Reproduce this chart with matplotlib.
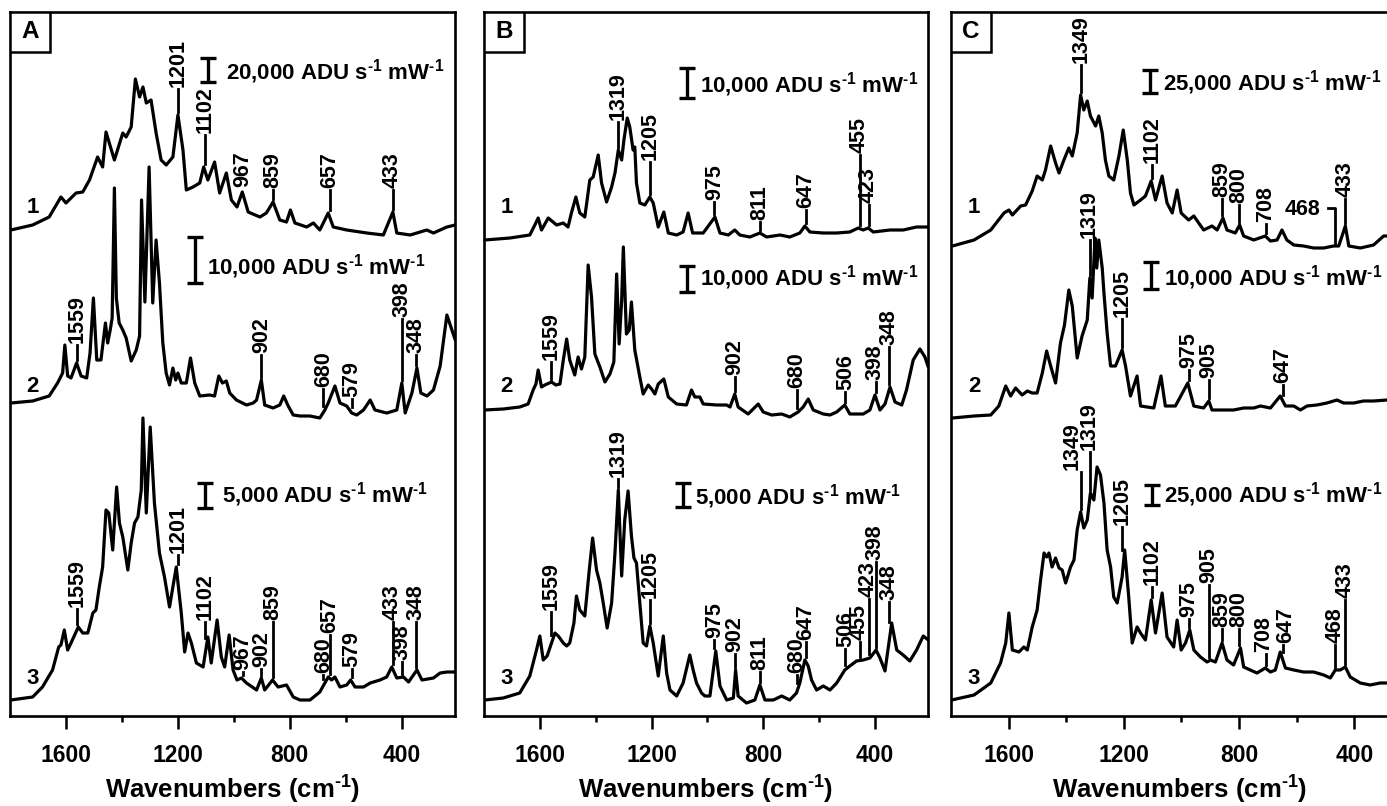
import numpy as np
import matplotlib
matplotlib.use('Agg')
import matplotlib.pyplot as plt
from matplotlib.patches import Rectangle

plt.rcParams['font.family'] = ['Liberation Sans', 'DejaVu Sans']
plt.rcParams['font.weight'] = 'bold'
plt.rcParams['mathtext.fontset'] = 'custom'
plt.rcParams['mathtext.rm'] = 'Liberation Sans:bold'
plt.rcParams['mathtext.it'] = 'Liberation Sans:bold'
plt.rcParams['mathtext.bf'] = 'Liberation Sans:bold'

# ---- spectra: (wavenumber cm-1, relative intensity) ----
a1 = [(1797,5),(1719,10),(1660,18),(1618,38),(1600,32),(1564,42),(1540,43),(1516,55),(1487,78),(1469,68),
      (1457,103),(1427,75),(1397,102),(1385,98),(1367,108),(1352,156),(1337,138),(1325,148),(1313,132),(1296,135),
      (1278,102),(1260,75),(1242,70),(1218,78),(1200,120),(1182,85),(1170,45),(1146,48),(1122,52),(1108,68),
      (1093,55),(1069,73),(1051,42),(1027,62),(1009,35),(989,28),(970,43),(949,23),(907,18),(884,22),
      (860,33),(836,15),(812,13),(798,25),(782,12),(740,8),(716,12),(693,5),(663,22),(645,8),
      (597,5),(525,2),(466,0),(432,23),(418,2),(370,0),(311,5),(287,2),(239,8),(209,10)]
a2 = [(1797,15),(1719,17),(1660,22),(1630,35),(1612,45),(1604,73),(1594,42),(1582,40),(1562,55),(1546,42),
      (1526,40),(1514,65),(1502,120),(1490,58),(1475,58),(1459,95),(1451,75),(1442,88),(1435,100),(1427,230),
      (1420,120),(1410,95),(1397,88),(1385,80),(1367,57),(1349,68),(1337,82),(1330,218),(1318,116),(1303,251),
      (1290,115),(1278,178),(1266,135),(1254,75),(1242,45),(1230,33),(1218,50),(1208,38),(1200,45),(1188,35),
      (1170,35),(1155,60),(1140,35),(1122,22),(1087,23),(1069,22),(1054,42),(1041,35),(1027,37),(1015,25),
      (991,18),(955,13),(931,15),(919,18),(902,38),(890,13),(860,10),(836,13),(822,22),(806,12),
      (788,3),(764,2),(728,2),(693,0),(675,8),(663,15),(639,32),(621,15),(597,12),(579,5),
      (561,3),(537,8),(513,18),(496,8),(454,5),(418,8),(400,35),(388,5),(364,25),(346,50),
      (332,25),(310,22),(287,28),(263,52),(239,103),(221,88),(209,78)]
a3 = [(1797,0),(1719,3),(1684,13),(1648,30),(1626,53),(1618,55),(1606,70),(1594,50),(1582,57),(1556,73),
      (1540,67),(1522,67),(1504,87),(1493,90),(1481,113),(1469,133),(1457,190),(1447,187),(1433,150),(1419,213),
      (1409,177),(1397,163),(1379,130),(1367,157),(1355,177),(1343,183),(1331,210),(1325,282),(1313,187),(1299,273),
      (1284,197),(1266,147),(1248,123),(1230,93),(1206,133),(1188,87),(1176,48),(1164,67),(1152,57),(1134,37),
      (1110,33),(1093,63),(1081,37),(1060,80),(1045,43),(1033,33),(1017,65),(1003,30),(989,20),(973,22),
      (955,17),(919,10),(902,22),(890,10),(862,20),(842,13),(812,15),(788,3),(764,0),(728,0),
      (693,8),(675,17),(663,23),(651,20),(639,23),(621,13),(597,15),(583,20),(567,13),(537,13),
      (513,17),(478,20),(454,23),(436,33),(418,22),(394,23),(376,18),(346,30),(328,20),(287,22),
      (263,27),(239,28),(209,28)]

b1 = [(1797,0),(1707,2),(1636,5),(1618,15),(1606,22),(1594,10),(1570,22),(1540,15),(1516,17),(1499,13),
      (1487,27),(1471,43),(1457,27),(1439,23),(1421,60),(1409,63),(1391,85),(1379,57),(1361,38),(1343,53),
      (1331,67),(1319,90),(1307,80),(1299,100),(1287,122),(1278,113),(1266,90),(1260,93),(1254,57),(1242,37),
      (1224,35),(1206,43),(1194,37),(1176,13),(1156,28),(1140,7),(1110,5),(1087,8),(1069,27),(1053,7),
      (1015,7),(973,23),(955,7),(925,5),(902,10),(884,5),(848,3),(812,7),(788,3),(740,5),
      (705,3),(669,7),(651,14),(633,8),(585,7),(537,7),(490,8),(460,12),(442,10),(424,12),
      (406,8),(346,10),(299,10),(251,13),(209,13)]
b2 = [(1797,7),(1731,8),(1672,10),(1642,13),(1624,27),(1614,33),(1606,47),(1594,30),(1582,32),(1574,33),
      (1558,35),(1543,32),(1528,33),(1516,57),(1504,78),(1493,57),(1475,42),(1463,60),(1451,48),(1439,60),
      (1427,152),(1415,120),(1403,63),(1385,50),(1367,35),(1349,43),(1335,55),(1325,143),(1316,73),(1307,117),
      (1301,170),(1290,83),(1280,87),(1272,115),(1260,67),(1242,40),(1230,23),(1212,32),(1200,28),(1188,23),
      (1176,33),(1156,38),(1140,20),(1110,13),(1075,12),(1057,27),(1045,20),(1027,20),(1015,13),(967,12),
      (931,12),(919,10),(902,23),(890,10),(854,3),(818,13),(800,5),(770,2),(734,3),(705,0),
      (675,5),(657,10),(639,18),(621,7),(585,3),(561,2),(537,5),(508,12),(490,3),(442,3),
      (418,7),(400,22),(382,7),(364,13),(346,30),(328,15),(304,12),(287,27),(263,57),(239,68),
      (221,60),(209,50)]
b3 = [(1797,3),(1731,5),(1672,10),(1636,27),(1612,53),(1600,67),(1588,43),(1574,47),(1546,70),(1534,67),
      (1516,60),(1504,57),(1493,60),(1478,80),(1469,107),(1457,93),(1439,87),(1423,133),(1411,165),(1397,133),
      (1385,120),(1373,100),(1359,75),(1343,100),(1331,150),(1319,213),(1307,127),(1296,183),(1284,212),(1272,167),
      (1263,145),(1254,140),(1242,100),(1230,60),(1218,57),(1206,77),(1194,60),(1176,27),(1158,67),(1146,30),
      (1134,13),(1110,7),(1087,20),(1063,48),(1051,33),(1039,20),(1021,10),(1009,7),(991,7),(970,52),
      (955,17),(931,3),(907,5),(899,33),(890,7),(860,0),(830,3),(812,18),(794,3),(764,3),
      (734,7),(705,3),(681,10),(669,20),(651,43),(639,37),(627,23),(609,13),(585,17),(561,13),
      (537,20),(508,33),(490,37),(466,42),(442,43),(418,45),(396,53),(382,45),(364,32),(340,80),
      (322,53),(299,48),(275,42),(251,53),(227,67),(209,63)]

c1 = [(1795,2),(1720,8),(1662,18),(1616,35),(1599,38),(1587,33),(1558,42),(1541,43),(1518,57),(1501,72),
      (1483,68),(1472,78),(1454,102),(1437,85),(1425,75),(1408,88),(1391,100),(1379,92),(1362,115),(1350,153),
      (1339,138),(1327,147),(1316,132),(1298,122),(1287,132),(1275,115),(1264,88),(1252,72),(1235,68),(1217,92),
      (1202,118),(1188,88),(1177,55),(1165,43),(1142,48),(1125,52),(1105,67),(1090,48),(1067,72),(1050,45),
      (1032,35),(1015,58),(1001,35),(975,28),(957,32),(940,25),(923,18),(894,22),(876,18),(856,30),
      (842,18),(813,15),(798,23),(784,12),(749,8),(709,12),(691,7),(668,8),(651,18),(634,8),
      (610,3),(576,2),(541,0),(506,0),(472,2),(454,2),(431,22),(419,2),(379,0),(333,3),
      (298,12),(286,12)]
c2 = [(1795,0),(1720,2),(1662,3),(1634,12),(1610,32),(1593,22),(1576,30),(1553,23),(1535,27),(1518,25),
      (1501,25),(1483,45),(1468,67),(1454,52),(1437,35),(1420,75),(1406,93),(1391,128),(1379,112),(1362,60),
      (1345,82),(1327,98),(1318,140),(1310,120),(1300,180),(1294,150),(1287,178),(1275,150),(1269,125),(1258,85),
      (1246,52),(1229,52),(1206,68),(1194,52),(1177,22),(1154,42),(1142,12),(1096,10),(1071,42),(1056,12),
      (1021,12),(978,35),(957,12),(923,10),(905,17),(894,8),(853,8),(819,8),(784,10),(749,10),
      (726,12),(691,10),(657,22),(639,12),(610,12),(587,8),(564,12),(530,13),(495,15),(460,18),
      (437,15),(402,15),(368,17),(333,17),(286,18)]
c3 = [(1798,0),(1720,5),(1662,17),(1628,37),(1610,57),(1599,87),(1587,50),(1564,48),(1547,53),(1535,50),
      (1518,73),(1501,90),(1489,120),(1477,147),(1468,143),(1460,147),(1449,133),(1437,142),(1425,132),(1414,130),
      (1402,117),(1385,133),(1373,140),(1362,170),(1350,188),(1339,172),(1327,180),(1316,207),(1304,200),(1293,233),
      (1281,225),(1269,197),(1258,150),(1246,133),(1235,103),(1223,97),(1206,123),(1197,150),(1183,103),(1171,57),
      (1154,73),(1142,67),(1125,60),(1105,100),(1090,67),(1067,107),(1050,63),(1027,53),(1015,80),(1001,50),
      (986,57),(971,70),(957,50),(934,43),(911,38),(899,40),(882,38),(859,57),(842,40),(819,35),
      (795,52),(784,33),(761,30),(738,27),(720,30),(709,32),(691,28),(674,30),(657,48),(639,32),
      (610,30),(576,28),(541,28),(506,25),(483,22),(466,30),(449,30),(431,33),(414,23),(379,17),
      (345,15),(310,17),(286,17)]

# assigned bands per trace
a1_peaks = [1201, 1102, 967, 859, 657, 433]
a2_peaks = [1559, 902, 680, 579, 398, 348]
a3_peaks = [1559, 1201, 1102, 967, 902, 859, 680, 657, 579, 433, 398, 348]
b1_peaks = [1319, 1205, 975, 811, 647, 455, 423]
b2_peaks = [1559, 902, 680, 506, 398, 348]
b3_peaks = [1319, 1559, 1205, 975, 902, 811, 680, 647, 506, 455, 423, 398, 348]
c1_peaks = [1349, 1102, 859, 800, 708, 433]
c2_peaks = [1319, 1205, 975, 905, 647]
c3_peaks = [1349, 1319, 1205, 1102, 975, 905, 859, 800, 708, 647, 468, 433]

# scale bars (ADU s-1 mW-1) and their length in plot units
a_scale = ['20,000', '10,000', '5,000']
b_scale = ['10,000', '10,000', '5,000']
c_scale = ['25,000', '10,000', '25,000']
a_bar = [24, 46, 25]
b_bar = [30, 26, 24]
c_bar = [23, 27, 20]

# ---- layout ----
a_off = [481, 298, 16]
b_off = [476, 299, 13]
c_off = [468, 298, 16]
a1_ty = [629, 583, 529, 528, 528, 528]
a2_ty = [373, 363, 329, 319, 399, 363]
a3_ty = [109, 163, 96, 46, 49, 96, 43, 83, 49, 96, 56, 96]
b1_ty = [596, 556, 516, 496, 508, 563, 513]
b2_ty = [356, 341, 328, 326, 336, 371]
b3_ty = [239, 106, 118, 78, 64, 46, 43, 76, 69, 76, 119, 156, 116]
c1_ty = [653, 553, 519, 513, 494, 519]
c2_ty = [478, 399, 348, 338, 333]
c3_ty = [246, 266, 191, 131, 99, 133, 89, 89, 64, 73, 73, 118]
# sideways nudge of a few crowded labels (cm-1, + = to the left)
c3_dx = [30, 0, 0, 0, 0, 0, 0, 0, 8, -8, 0, 0]
a_barpos = [(1092, 646), (1138, 456), (1102, 220)]
b_barpos = [(1073, 633), (1073, 437), (1087, 221)]
c_barpos = [(1110, 634), (1107, 440), (1103, 221)]
a_txtpos = [(1027, 644), (1095, 449), (1041, 221)]
b_txtpos = [(1027, 631), (1027, 438), (1044, 219)]
c_txtpos = [(1065, 633), (1062, 438), (1062, 221)]
num_y = [508, 329, 37]

panels = [
    ('A', (10, 455), [a1, a2, a3], a_off, [a1_peaks, a2_peaks, a3_peaks], [a1_ty, a2_ty, a3_ty], [None, None, None],
     a_scale, a_bar, a_barpos, a_txtpos),
    ('B', (484, 928), [b1, b2, b3], b_off, [b1_peaks, b2_peaks, b3_peaks], [b1_ty, b2_ty, b3_ty], [None, None, None],
     b_scale, b_bar, b_barpos, b_txtpos),
    ('C', (951, 1409), [c1, c2, c3], c_off, [c1_peaks, c2_peaks, c3_peaks], [c1_ty, c2_ty, c3_ty], [None, None, c3_dx],
     c_scale, c_bar, c_barpos, c_txtpos),
]

W, H = 1387, 806
TOP, BOT = 12, 716
fig = plt.figure(figsize=(W / 100, H / 100), dpi=100)

unit = ' ADU s$^{\\text{-}1}$ mW$^{\\text{-}1}$'

for letter, (x0, x1), spectra, offs, peaks, tys, dxs, scl, bars, barpos, txtpos in panels:
    ax = fig.add_axes([x0 / W, (H - BOT) / H, (x1 - x0) / W, (BOT - TOP) / H])
    ax.set_xlim(1800, 210)
    ax.set_ylim(0, BOT - TOP)
    for sp in ax.spines.values():
        sp.set_linewidth(1.9)
    ax.set_yticks([])
    ax.set_xticks([1600, 1200, 800, 400])
    ax.set_xticks([1400, 1000, 600], minor=True)
    ax.tick_params(axis='x', which='major', direction='out', length=9.5, width=1.8, pad=11, labelsize=16.5)
    ax.tick_params(axis='x', which='minor', direction='out', length=4.5, width=1.8)
    ax.set_xlabel('Wavenumbers (cm$^{\\text{-}1}$)', fontsize=18.5, fontweight='bold')
    ax.xaxis.set_label_coords(0.5, -0.082)

    for i, spec in enumerate(spectra):
        wn, inten = np.array(spec, dtype=float).T
        y = inten + offs[i]
        ax.plot(wn, y, color='black', lw=2.3, solid_joinstyle='round', solid_capstyle='round')
        xs, ys = wn[::-1], y[::-1]
        shifts = dxs[i] if dxs[i] is not None else [0] * len(peaks[i])
        for pk, ty, dx in zip(peaks[i], tys[i], shifts):
            top = np.interp(np.linspace(pk - 7, pk + 7, 15), xs, ys).max()
            if ty - 2 > top + 3:
                ax.plot([pk, pk], [top + 3, ty - 2], color='black', lw=2.0)
            ax.text(pk + dx, ty, str(pk), rotation=90, ha='center', va='bottom', fontsize=15.5)
        # scale bar
        bx, by = barpos[i]
        ax.errorbar(bx, by, yerr=bars[i] / 2, color='black', lw=2.4, capsize=6, capthick=2.4)
        tx, tyy = txtpos[i]
        ax.text(tx, tyy, scl[i] + unit, ha='left', va='center', fontsize=16)
        ax.text(1720, num_y[i], str(i + 1), ha='center', va='center', fontsize=16)

    if letter == 'C':
        # 468 band of trace 1 carries a horizontal label with an elbow leader
        wn, inten = np.array(c1, dtype=float).T
        top = np.interp(468, wn[::-1], inten[::-1]) + c_off[0]
        ax.plot([492, 468, 468], [508, 508, top + 3], color='black', lw=2.0)
        ax.text(517, 506, '468', ha='right', va='center', fontsize=15.5)

    fw = 40 / (x1 - x0)
    fh = 40 / (BOT - TOP)
    ax.add_patch(Rectangle((0, 1 - fh), fw, fh, transform=ax.transAxes, fc='white', ec='black', lw=1.8, zorder=5))
    ax.text(fw / 2, 1 - fh / 2, letter, transform=ax.transAxes, ha='center', va='center', fontsize=17.5, zorder=6)

fig.savefig('out.png', dpi=100)
